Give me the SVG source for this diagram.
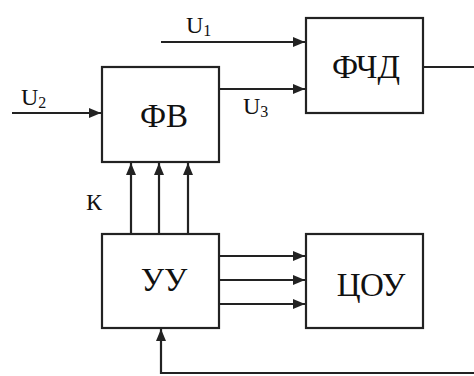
<svg xmlns="http://www.w3.org/2000/svg" width="474" height="376" viewBox="0 0 474 376">
<defs>
<marker id="ah" viewBox="0 0 12 10" refX="12" refY="5" markerWidth="12" markerHeight="10" markerUnits="userSpaceOnUse" orient="auto">
<path d="M0,0 L12,5 L0,10 Z" fill="#222"/>
</marker>
</defs>
<style>
.box{fill:#fff;stroke:#222;stroke-width:2.2}
.ln{fill:none;stroke:#222;stroke-width:2.2}
</style>
<rect width="474" height="376" fill="#fff"/>
<g id="connectors">
<line class="ln" x1="161" y1="42" x2="305" y2="42" marker-end="url(#ah)"/>
<line class="ln" x1="12" y1="113" x2="101" y2="113" marker-end="url(#ah)"/>
<line class="ln" x1="219" y1="89" x2="305" y2="89" marker-end="url(#ah)"/>
<line class="ln" x1="423" y1="67" x2="474" y2="67"/>
<line class="ln" x1="131" y1="234" x2="131" y2="163" marker-end="url(#ah)"/>
<line class="ln" x1="159" y1="234" x2="159" y2="163" marker-end="url(#ah)"/>
<line class="ln" x1="188" y1="234" x2="188" y2="163" marker-end="url(#ah)"/>
<line class="ln" x1="219" y1="256" x2="305" y2="256" marker-end="url(#ah)"/>
<line class="ln" x1="219" y1="280" x2="305" y2="280" marker-end="url(#ah)"/>
<line class="ln" x1="219" y1="304" x2="305" y2="304" marker-end="url(#ah)"/>
<polyline class="ln" points="474,373 161,373 161,329" marker-end="url(#ah)"/>
<text style="font-family:'Liberation Serif'" font-size="24" fill="#111" x="186" y="33">U<tspan font-size="16" dy="3">1</tspan></text>
<text style="font-family:'Liberation Serif'" font-size="24" fill="#111" x="21" y="105">U<tspan font-size="16" dy="3">2</tspan></text>
<text style="font-family:'Liberation Serif'" font-size="24" fill="#111" x="243" y="114">U<tspan font-size="16" dy="3">3</tspan></text>
<text style="font-family:'Liberation Serif'" font-size="24" fill="#111" x="86" y="210">К</text>
</g>
<g id="fv">
<rect class="box" x="102" y="67" width="117" height="95"/>
<text style="font-family:'Liberation Serif'" font-size="33" fill="#111" text-anchor="middle" x="164" y="127">ФВ</text>
</g>
<g id="fchd">
<rect class="box" x="306" y="18" width="117" height="95"/>
<text style="font-family:'Liberation Serif'" font-size="33" fill="#111" text-anchor="middle" x="366" y="78">ФЧД</text>
</g>
<g id="uu">
<rect class="box" x="102" y="234" width="117" height="94"/>
<text style="font-family:'Liberation Serif'" font-size="33" fill="#111" text-anchor="middle" x="164" y="291">УУ</text>
</g>
<g id="tsou">
<rect class="box" x="306" y="234" width="117" height="94"/>
<text style="font-family:'Liberation Serif'" font-size="33" fill="#111" text-anchor="middle" x="371" y="296">ЦОУ</text>
</g>
</svg>
